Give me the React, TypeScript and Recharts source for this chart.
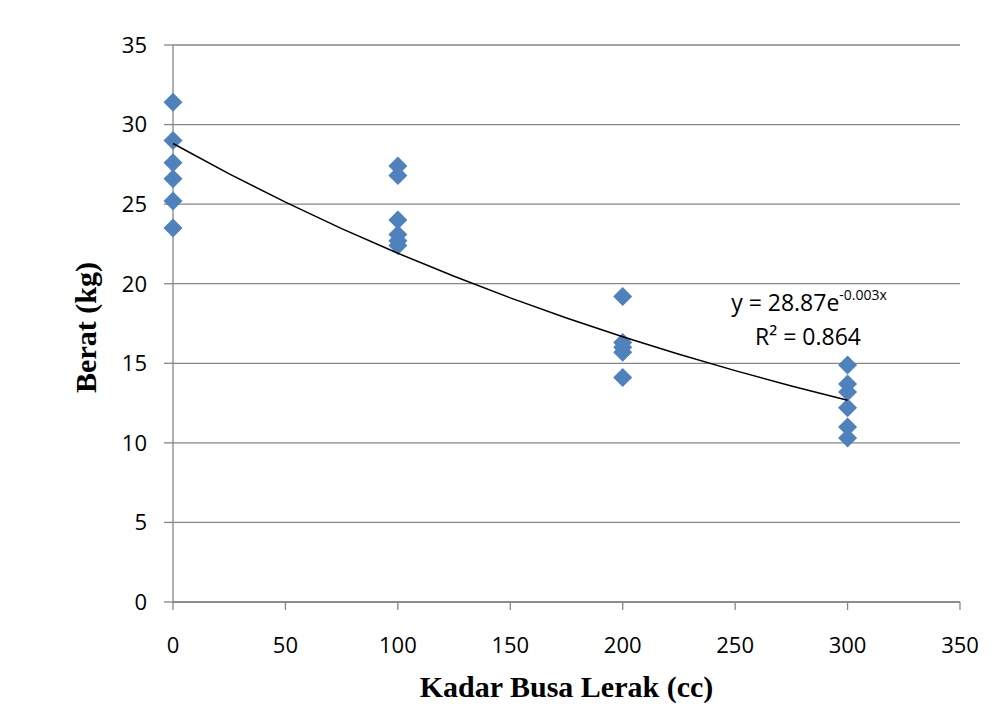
import { ScatterChart, Scatter, XAxis, YAxis, CartesianGrid } from 'recharts'

// readings per foam level (x in cc, y in kg)
const dose0 = [31.4, 29.0, 27.6, 26.6, 25.2, 23.5]
const dose100 = [27.4, 26.8, 24.0, 23.1, 22.7, 22.4]
const dose200 = [19.2, 16.3, 16.0, 15.7, 14.1]
const dose300 = [14.9, 13.7, 13.2, 12.2, 11.0, 10.3]

const xTicks = [0, 50, 100, 150, 200, 250, 300, 350]
const yTicks = [0, 5, 10, 15, 20, 25, 30, 35]

const groups: Array<[number, number[]]> = [
  [0, dose0],
  [100, dose100],
  [200, dose200],
  [300, dose300],
]

const points = groups.flatMap(([x, ys]) => ys.map((y) => ({ x, y })))

// exponential trendline, least squares on ln(y) like a spreadsheet does
function fitExp(pts: { x: number; y: number }[]) {
  const n = pts.length
  let sx = 0, sy = 0, sxx = 0, sxy = 0
  pts.forEach((p) => {
    const ly = Math.log(p.y)
    sx += p.x; sy += ly; sxx += p.x * p.x; sxy += p.x * ly
  })
  const b = (n * sxy - sx * sy) / (n * sxx - sx * sx)
  const a = Math.exp((sy - b * sx) / n)
  return { a, b }
}

const fit = fitExp(points)
const trend = [0, 25, 50, 75, 100, 125, 150, 175, 200, 225, 250, 275, 300].map((x) => ({
  x,
  y: fit.a * Math.exp(fit.b * x),
}))

const BLUE = '#4F81BD'
const GRID = '#868686'
const SANS = '"Open Sans", sans-serif'
const SERIF = '"Liberation Serif", serif'
const tickFont = { fontSize: 22, fill: '#000', fontFamily: SANS }

function Diamond(props: { cx?: number; cy?: number }) {
  const { cx, cy } = props
  if (cx == null || cy == null) return null
  const r = 9.5
  return (
    <polygon
      points={`${cx},${cy - r} ${cx + r},${cy} ${cx},${cy + r} ${cx - r},${cy}`}
      fill={BLUE}
    />
  )
}

type VB = { viewBox?: { x: number; y: number; width: number; height: number } }

function YTitle({ viewBox: vb }: VB) {
  if (!vb) return null
  const x = vb.x + 85
  const y = vb.y + vb.height / 2 + 4
  return (
    <text
      x={x}
      y={y}
      transform={`rotate(-90 ${x} ${y})`}
      textAnchor="middle"
      dominantBaseline="central"
      fontFamily={SERIF}
      fontWeight="bold"
      fontSize={30}
      fill="#000"
    >
      Berat (kg)
    </text>
  )
}

function XTitle({ viewBox: vb }: VB) {
  if (!vb) return null
  return (
    <text
      x={vb.x + vb.width / 2}
      y={vb.y + 95}
      textAnchor="middle"
      fontFamily={SERIF}
      fontWeight="bold"
      fontSize={30}
      fill="#000"
    >
      Kadar Busa Lerak (cc)
    </text>
  )
}

export default function App() {
  return (
    <div style={{ position: 'absolute', left: 0, top: 0, width: 1001, height: 709, background: '#fff' }}>
      <ScatterChart width={1001} height={709} margin={{ top: 45, right: 41, bottom: 0, left: 0 }}>
        <CartesianGrid horizontal vertical={false} stroke={GRID} strokeWidth={1.3} />
        <XAxis
          type="number"
          dataKey="x"
          domain={[0, 350]}
          ticks={xTicks}
          height={107}
          stroke={GRID}
          strokeWidth={1.3}
          tickSize={8}
          tickMargin={27}
          tick={tickFont}
          label={<XTitle />}
        />
        <YAxis
          type="number"
          dataKey="y"
          domain={[0, 35]}
          ticks={yTicks}
          width={173}
          stroke={GRID}
          strokeWidth={1.3}
          tickSize={9}
          tickMargin={17}
          tick={tickFont}
          label={<YTitle />}
        />
        <Scatter data={points} fill={BLUE} shape={<Diamond />} isAnimationActive={false} />
        <Scatter
          data={trend}
          line={{ stroke: '#000', strokeWidth: 1.5 }}
          shape={() => <g />}
          isAnimationActive={false}
        />
      </ScatterChart>
      <svg
        width={1001}
        height={709}
        style={{ position: 'absolute', left: 0, top: 0, pointerEvents: 'none' }}
      >
        <text x={809} y={311} textAnchor="middle" fontFamily={SANS} fontSize={23} fill="#000">
          y = 28.87e
          <tspan fontSize={14} dy={-11}>-0.003x</tspan>
        </text>
        <text x={808} y={345} textAnchor="middle" fontFamily={SANS} fontSize={23} fill="#000">
          R² = 0.864
        </text>
      </svg>
    </div>
  )
}
